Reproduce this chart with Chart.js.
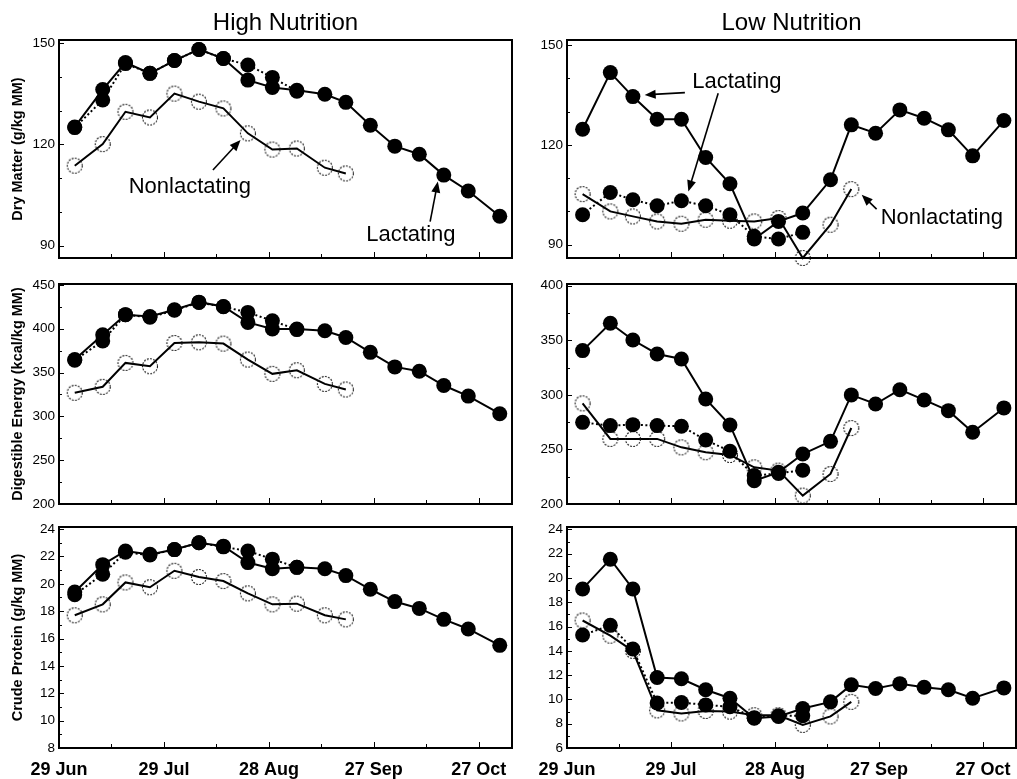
<!DOCTYPE html>
<html lang="en">
<head>
	<meta charset="UTF-8">
	<title>Forage quality by nutrition level</title>
	<script src="https://cdn.jsdelivr.net/npm/chart.js"></script>
	<style>
		body { margin: 0; background: #fff; }
		#wrap { position: relative; width: 1017px; height: 779px; overflow: hidden; background: #fff; }
		#wrap canvas { position: absolute; }
	</style>
</head>
<body>
<div id="wrap"></div>
<script>
	// days counted from 29 Jun
	const sampleDays = [4.5, 12.5, 19, 26, 33, 40, 47, 54, 61, 68, 76, 82, 89, 96, 103, 110, 117, 126];
	const xTickDays = [0, 30, 60, 90, 120];
	const xTickLabels = ['29 Jun', '29 Jul', '28 Aug', '27 Sep', '27 Oct'];
	const xMinorDays = [15, 45, 75, 105];
	const xMax = 129.5;

	// High nutrition
	const hiDmLact  = [125.2, 136.3, 144.3, 141.1, 144.9, 148.2, 145.5, 139.1, 136.9, 136.1, 134.9, 132.5, 125.7, 119.5, 117.1, 110.9, 106.2, 98.7];
	const hiDmLact2 = [125.0, 133.2, 144.0, 141.1, 144.9, 148.2, 145.5, 143.6, 139.9, 135.8];
	const hiDmNon   = [113.7, 120.1, 129.7, 128.0, 135.1, 132.7, 130.7, 123.3, 118.5, 118.8, 113.1, 111.4];

	const hiDeLact  = [364.8, 393.0, 416.0, 414.0, 421.6, 430.3, 425.4, 407.2, 399.6, 399.6, 397.7, 390.0, 373.0, 356.4, 351.5, 335.2, 323.1, 303.0];
	const hiDeLact2 = [364.0, 386.0, 416.0, 413.0, 421.0, 430.0, 425.0, 418.6, 409.0, 399.0];
	const hiDeNon   = [326.9, 333.7, 361.0, 357.2, 383.7, 384.5, 383.0, 364.8, 348.5, 352.6, 337.0, 330.7];

	const hiCpLact  = [19.4, 21.4, 22.4, 22.15, 22.5, 23.0, 22.75, 21.55, 21.1, 21.2, 21.1, 20.6, 19.6, 18.7, 18.2, 17.4, 16.7, 15.5];
	const hiCpLact2 = [19.2, 20.7, 22.3, 22.1, 22.5, 23.0, 22.7, 22.4, 21.8, 21.2];
	const hiCpNon   = [17.7, 18.5, 20.1, 19.75, 20.95, 20.5, 20.2, 19.3, 18.5, 18.55, 17.7, 17.4];

	// Low nutrition
	const loDmLact  = [124.7, 141.7, 134.5, 127.7, 127.7, 116.2, 108.3, 91.7, 97.0, 99.5, 109.5, 126.0, 123.5, 130.5, 128.0, 124.5, 116.7, 127.3];
	const loDmLact2 = [99.0, 105.7, 103.5, 101.7, 103.2, 101.7, 99.0, 92.5, 91.7, 93.7];
	const loDmNon   = [105.2, 100.0, 98.5, 97.0, 96.3, 97.5, 97.2, 97.0, 98.0, 86.0, 96.0, 106.7];

	const loDeLact  = [340.5, 365.5, 350.2, 337.4, 332.8, 296.2, 272.4, 221.4, 229.0, 245.8, 257.4, 299.9, 291.6, 304.7, 295.3, 285.5, 265.7, 288.0];
	const loDeLact2 = [274.8, 271.8, 272.7, 271.8, 271.2, 258.6, 248.3, 226.0, 228.0, 231.0];
	const loDeNon   = [292.2, 259.6, 259.6, 259.6, 251.9, 247.4, 244.9, 233.6, 230.6, 207.7, 227.5, 269.6];

	const loCpLact  = [19.1, 21.55, 19.1, 11.8, 11.7, 10.8, 10.1, 8.45, 8.6, 9.25, 9.8, 11.2, 10.9, 11.3, 11.0, 10.8, 10.1, 10.95];
	const loCpLact2 = [15.3, 16.1, 14.15, 9.7, 9.75, 9.55, 9.4, 8.5, 8.65, 8.65];
	const loCpNon   = [16.5, 15.25, 14.0, 9.1, 8.85, 9.05, 9.0, 8.7, 8.7, 7.9, 8.6, 9.8];

	// y tick labels
	const dmTicks = [90, 120, 150];
	const deHiTicks = [200, 250, 300, 350, 400, 450];
	const deLoTicks = [200, 250, 300, 350, 400];
	const cpHiTicks = [8, 10, 12, 14, 16, 18, 20, 22, 24];
	const cpLoTicks = [6, 8, 10, 12, 14, 16, 18, 20, 22, 24];

	// callouts, in data units: [text, day, value] and [fromDay, fromValue, toDay, toValue]
	const hiDmNotes = [['Nonlactating', 37.4, 107.4], ['Lactating', 100.6, 93.1]];
	const hiDmArrows = [[44.0, 112.4, 51.9, 121.3], [106.1, 97.1, 108.3, 109.0]];
	const loDmNotes = [['Lactating', 49.0, 138.9], ['Nonlactating', 108.1, 98.1]];
	const loDmArrows = [[34.0, 135.7, 22.4, 135.0], [43.6, 135.5, 35.0, 106.0], [89.3, 100.7, 85.0, 105.0]];

	const FONT = '"Liberation Sans", Arial, Helvetica, sans-serif';
	Chart.defaults.font.family = FONT;
	Chart.defaults.color = '#000';

	const rows = [
		{ top: 0, h: 280, padTop: 0, padBottom: 22 },
		{ top: 262, h: 262, padTop: 22, padBottom: 20 },
		{ top: 512, h: 267, padTop: 15, padBottom: 0 }
	];
	const cols = [
		{ left: 0, w: 524, yWidth: 59, padRight: 12, title: 'High Nutrition' },
		{ left: 524, w: 510, yWidth: 43, padRight: 18, title: 'Low Nutrition' }
	];

	const panels = [
		{ id: 'hiDM', row: 0, col: 0, yTitle: 'Dry Matter (g/kg MM)', lact: hiDmLact, lact2: hiDmLact2, non: hiDmNon, min: 86.3, max: 151, ticks: dmTicks, minor: 10, notes: hiDmNotes, arrows: hiDmArrows },
		{ id: 'loDM', row: 0, col: 1, lact: loDmLact, lact2: loDmLact2, non: loDmNon, min: 86, max: 151.5, ticks: dmTicks, minor: 10, notes: loDmNotes, arrows: loDmArrows },
		{ id: 'hiDE', row: 1, col: 0, yTitle: 'Digestible Energy (kcal/kg MM)', lact: hiDeLact, lact2: hiDeLact2, non: hiDeNon, min: 200, max: 451, ticks: deHiTicks, minor: 25 },
		{ id: 'loDE', row: 1, col: 1, lact: loDeLact, lact2: loDeLact2, non: loDeNon, min: 200, max: 401.5, ticks: deLoTicks, minor: 25 },
		{ id: 'hiCP', row: 2, col: 0, yTitle: 'Crude Protein (g/kg MM)', lact: hiCpLact, lact2: hiCpLact2, non: hiCpNon, min: 8, max: 24.15, ticks: cpHiTicks, minor: 1 },
		{ id: 'loCP', row: 2, col: 1, lact: loCpLact, lact2: loCpLact2, non: loCpNon, min: 6, max: 24.2, ticks: cpLoTicks, minor: 1 }
	];
	const panelById = {};
	panels.forEach(p => { panelById[p.id] = p; });

	// dotted open ring used for the nonlactating points
	function makeRing() {
		const c = document.createElement('canvas');
		c.width = c.height = 18;
		const g = c.getContext('2d');
		g.setLineDash([1.8, 1.4]);
		g.lineWidth = 1.1;
		g.strokeStyle = '#111';
		g.beginPath();
		g.arc(9, 9, 7.5, 0, Math.PI * 2);
		g.stroke();
		return c;
	}
	const ring = makeRing();

	function pts(vals) {
		return vals.map((v, i) => ({ x: sampleDays[i], y: v }));
	}

	function drawArrow(ctx, x0, y0, x1, y1) {
		const ang = Math.atan2(y1 - y0, x1 - x0);
		const len = 11, half = 4.5;
		ctx.beginPath();
		ctx.moveTo(x0, y0);
		ctx.lineTo(x1 - Math.cos(ang) * len * 0.8, y1 - Math.sin(ang) * len * 0.8);
		ctx.stroke();
		ctx.beginPath();
		ctx.moveTo(x1, y1);
		ctx.lineTo(x1 - Math.cos(ang) * len + Math.sin(ang) * half, y1 - Math.sin(ang) * len - Math.cos(ang) * half);
		ctx.lineTo(x1 - Math.cos(ang) * len - Math.sin(ang) * half, y1 - Math.sin(ang) * len + Math.cos(ang) * half);
		ctx.closePath();
		ctx.fill();
	}

	// box, inward tick marks and the text callouts
	const framePlugin = {
		id: 'frame',
		afterDatasetsDraw(chart) {
			const p = panelById[chart.canvas.id];
			const { ctx, chartArea: a, scales: { x, y } } = chart;
			ctx.save();
			ctx.strokeStyle = '#000';
			ctx.lineWidth = 1;
			x.ticks.forEach(t => {
				const px = Math.round(x.getPixelForValue(t.value)) + 0.5;
				const len = xTickDays.includes(t.value) ? 6 : 4;
				ctx.beginPath();
				ctx.moveTo(px, a.bottom);
				ctx.lineTo(px, a.bottom - len);
				ctx.stroke();
			});
			y.ticks.forEach(t => {
				const py = Math.round(y.getPixelForValue(t.value)) + 0.5;
				const len = p.ticks.includes(t.value) ? 5 : 3;
				ctx.beginPath();
				ctx.moveTo(a.left, py);
				ctx.lineTo(a.left + len, py);
				ctx.stroke();
			});
			ctx.lineWidth = 2;
			ctx.strokeRect(a.left, a.top, a.right - a.left, a.bottom - a.top);

			ctx.fillStyle = '#000';
			ctx.lineWidth = 1.6;
			ctx.font = '22px ' + FONT;
			ctx.textAlign = 'center';
			ctx.textBaseline = 'middle';
			(p.notes || []).forEach(([txt, d, v]) => {
				ctx.fillText(txt, x.getPixelForValue(d), y.getPixelForValue(v));
			});
			(p.arrows || []).forEach(([d0, v0, d1, v1]) => {
				drawArrow(ctx, x.getPixelForValue(d0), y.getPixelForValue(v0), x.getPixelForValue(d1), y.getPixelForValue(v1));
			});
			ctx.restore();
		}
	};

	const wrap = document.getElementById('wrap');

	panels.forEach(p => {
		const r = rows[p.row];
		const c = cols[p.col];
		const isLeft = p.col === 0;
		const isBottom = p.row === 2;

		const canvas = document.createElement('canvas');
		canvas.id = p.id;
		canvas.width = c.w;
		canvas.height = r.h;
		canvas.style.left = c.left + 'px';
		canvas.style.top = r.top + 'px';
		canvas.style.width = c.w + 'px';
		canvas.style.height = r.h + 'px';
		wrap.appendChild(canvas);

		const yTickList = [];
		for (let v = Math.ceil(p.min / p.minor) * p.minor; v <= p.max + 1e-9; v += p.minor) {
			yTickList.push(Math.round(v * 100) / 100);
		}
		const xTickList = xTickDays.concat(xMinorDays).sort((a, b) => a - b);

		new Chart(canvas, {
			type: 'line',
			data: {
				datasets: [
					{
						label: 'Lactating',
						data: pts(p.lact),
						borderColor: '#000',
						borderWidth: 2,
						pointRadius: 7.5,
						pointBackgroundColor: '#000',
						pointBorderWidth: 0,
						tension: 0,
						clip: false
					},
					{
						label: 'Lactating',
						data: pts(p.lact2),
						borderColor: '#000',
						borderWidth: 2,
						borderDash: [2, 2.5],
						pointRadius: 7.5,
						pointBackgroundColor: '#000',
						pointBorderWidth: 0,
						tension: 0,
						clip: false
					},
					{
						label: 'Nonlactating',
						data: pts(p.non),
						borderColor: '#000',
						borderWidth: 2,
						pointStyle: ring,
						pointRadius: 7.5,
						tension: 0,
						clip: false
					}
				]
			},
			options: {
				responsive: false,
				animation: false,
				events: [],
				layout: {
					autoPadding: false,
					padding: { top: r.padTop, bottom: r.padBottom, left: 0, right: c.padRight }
				},
				plugins: {
					legend: { display: false },
					tooltip: { enabled: false },
					title: {
						display: p.row === 0,
						text: c.title,
						fullSize: false,
						color: '#000',
						font: { size: 24, weight: 'normal', lineHeight: 1.2 },
						padding: { top: 9, bottom: 2.2 }
					}
				},
				scales: {
					x: {
						type: 'linear',
						min: 0,
						max: xMax,
						bounds: 'data',
						grid: { display: false, drawTicks: false },
						border: { display: false },
						afterBuildTicks: s => { s.ticks = xTickList.map(v => ({ value: v })); },
						afterFit: s => { s.height = isBottom ? 31 : 0; },
						ticks: {
							display: isBottom,
							autoSkip: false,
							maxRotation: 0,
							padding: 11,
							color: '#000',
							font: { size: 18, weight: 'bold' },
							callback: v => {
								const i = xTickDays.indexOf(v);
								return i >= 0 ? xTickLabels[i] : '';
							}
						}
					},
					y: {
						type: 'linear',
						min: p.min,
						max: p.max,
						bounds: 'data',
						grid: { display: false, drawTicks: false },
						border: { display: false },
						afterBuildTicks: s => { s.ticks = yTickList.map(v => ({ value: v })); },
						afterFit: s => { s.width = c.yWidth; },
						ticks: {
							autoSkip: false,
							padding: 4,
							color: '#000',
							font: { size: 13.5 },
							callback: v => (p.ticks.includes(v) ? String(v) : '')
						},
						title: {
							display: isLeft,
							text: p.yTitle || '',
							color: '#000',
							font: { size: 14.5, weight: 'bold' },
							padding: { top: 9, bottom: 0 }
						}
					}
				}
			},
			plugins: [framePlugin]
		});
	});
</script>
</body>
</html>
